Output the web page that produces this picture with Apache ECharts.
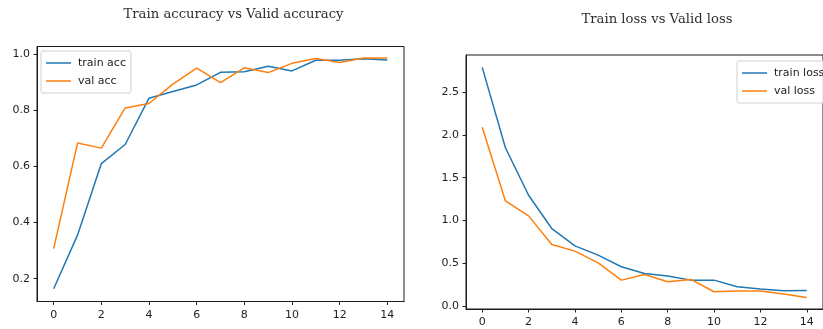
<!DOCTYPE html>
<html>
<head>
<meta charset="utf-8">
<script src="https://cdn.jsdelivr.net/npm/echarts@6/dist/echarts.min.js"></script>
<style>
  html, body { margin: 0; padding: 0; background: #fff; }
  #chart { width: 823px; height: 329px; }
</style>
</head>
<body>
<div id="chart"></div>
<script>
// Epoch index shared by both panels
const epochs = [0, 1, 2, 3, 4, 5, 6, 7, 8, 9, 10, 11, 12, 13, 14];

// Accuracy per epoch
const trainAcc = [0.164, 0.355, 0.610, 0.678, 0.843, 0.867, 0.890, 0.935, 0.937, 0.957, 0.940, 0.978, 0.978, 0.983, 0.979];
const valAcc   = [0.307, 0.683, 0.665, 0.808, 0.824, 0.893, 0.950, 0.898, 0.951, 0.934, 0.967, 0.984, 0.970, 0.986, 0.986];

// Loss per epoch
const trainLoss = [2.79, 1.85, 1.295, 0.906, 0.704, 0.595, 0.459, 0.381, 0.350, 0.303, 0.303, 0.226, 0.198, 0.179, 0.183];
const valLoss   = [2.09, 1.229, 1.054, 0.719, 0.642, 0.505, 0.303, 0.369, 0.284, 0.311, 0.167, 0.175, 0.175, 0.140, 0.101];

// Tick positions
const epochTicks = [0, 2, 4, 6, 8, 10, 12, 14];
const accTicks = [0.2, 0.4, 0.6, 0.8, 1.0];
const lossTicks = [0.0, 0.5, 1.0, 1.5, 2.0, 2.5];

const BLUE = '#1f77b4';
const ORANGE = '#ff7f0e';
const INK = '#222';
const FRAME = '#1a1a1a';
const SANS = '"DejaVu Sans", sans-serif';
const SERIF = '"DejaVu Serif", serif';

function pairs(ys) { return epochs.map((x, i) => [x, ys[i]]); }

function xAxisFor(gridIndex) {
  return {
    type: 'value', gridIndex: gridIndex, min: -0.7, max: 14.7, position: 'bottom',
    axisLine: { show: true, onZero: false, lineStyle: { color: FRAME, width: 1 } },
    splitLine: { show: false },
    axisTick: { show: true, length: 3.5, lineStyle: { color: INK, width: 1 }, customValues: epochTicks },
    axisLabel: { color: INK, fontFamily: SANS, fontSize: 11, margin: 8, customValues: epochTicks,
                 formatter: v => String(Math.round(v)) }
  };
}

function yAxisFor(gridIndex, min, max, ticks) {
  return {
    type: 'value', gridIndex: gridIndex, min: min, max: max, position: 'left',
    axisLine: { show: true, onZero: false, lineStyle: { color: FRAME, width: 1 } },
    splitLine: { show: false },
    axisTick: { show: true, length: 3.5, lineStyle: { color: INK, width: 1 }, customValues: ticks },
    axisLabel: { color: INK, fontFamily: SANS, fontSize: 11, margin: 7, customValues: ticks,
                 formatter: v => v.toFixed(1) }
  };
}

function lineSeries(name, color, axisIndex, ys) {
  return {
    type: 'line', name: name, xAxisIndex: axisIndex, yAxisIndex: axisIndex,
    data: pairs(ys), showSymbol: false, symbol: 'none', animation: false,
    lineStyle: { color: color, width: 1.5 }, itemStyle: { color: color }
  };
}

function legendAt(left, top, names) {
  return {
    orient: 'vertical', left: left, top: top, data: names,
    icon: 'rect', itemWidth: 25, itemHeight: 1.5, itemGap: 4,
    padding: [5, 5, 5, 5],
    backgroundColor: 'rgba(255,255,255,0.85)',
    borderColor: '#d0d0d0', borderWidth: 1, borderRadius: 2,
    selectedMode: false,
    textStyle: { color: INK, fontFamily: SANS, fontSize: 11, lineHeight: 14, padding: [0, 0, 0, 2] }
  };
}

const chart = echarts.init(document.getElementById('chart'), null, { renderer: 'canvas' });
chart.setOption({
  animation: false,
  backgroundColor: '#fff',
  graphic: [
    { type: 'text', x: 233.5, y: 15, style: { text: 'Train accuracy vs Valid accuracy', fill: '#2e2e2e',
      font: '13.2px ' + SERIF, textAlign: 'center', textVerticalAlign: 'middle' } },
    { type: 'text', x: 657, y: 20, style: { text: 'Train loss vs Valid loss', fill: '#2e2e2e',
      font: '13.2px ' + SERIF, textAlign: 'center', textVerticalAlign: 'middle' } }
  ],
  grid: [
    { left: 37, top: 46.5, width: 367, height: 255, show: true, borderColor: FRAME, borderWidth: 1, backgroundColor: 'transparent' },
    { left: 466, top: 55, width: 367, height: 254, show: true, borderColor: FRAME, borderWidth: 1, backgroundColor: 'transparent' }
  ],
  xAxis: [xAxisFor(0), xAxisFor(1)],
  yAxis: [
    yAxisFor(0, 0.1187, 1.027, accTicks),
    yAxisFor(1, -0.0345, 2.9345, lossTicks)
  ],
  legend: [
    legendAt(41, 51, ['train acc', 'val acc']),
    legendAt(737, 61, ['train loss', 'val loss'])
  ],
  series: [
    lineSeries('train acc', BLUE, 0, trainAcc),
    lineSeries('val acc', ORANGE, 0, valAcc),
    lineSeries('train loss', BLUE, 1, trainLoss),
    lineSeries('val loss', ORANGE, 1, valLoss)
  ]
});
</script>
</body>
</html>
